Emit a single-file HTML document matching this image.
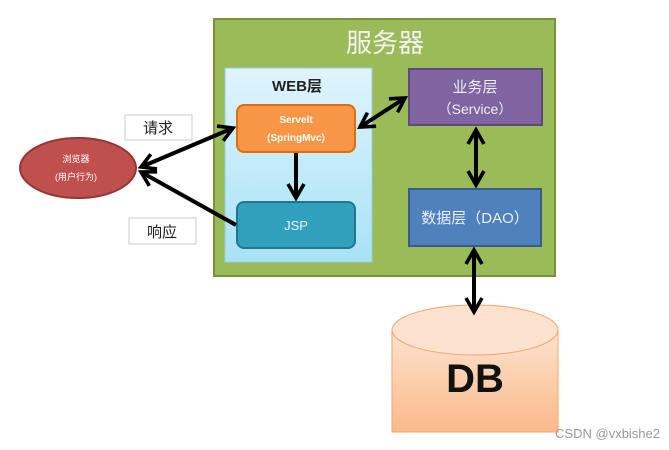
<!DOCTYPE html>
<html><head><meta charset="utf-8"><style>
body{margin:0;background:#fff;width:669px;height:445px;overflow:hidden}
svg text{font-family:"Liberation Sans","Noto Sans CJK SC",sans-serif}
</style></head><body>
<svg width="669" height="445" viewBox="0 0 669 445" xmlns="http://www.w3.org/2000/svg">
<defs>
<marker id="a" viewBox="0 0 10 10" refX="8" refY="5" markerWidth="5" markerHeight="5" orient="auto-start-reverse" markerUnits="strokeWidth">
<path d="M1,1 L8,5 L1,9" fill="none" stroke="#000" stroke-width="1.8"/>
</marker>
<linearGradient id="wb" x1="0" y1="0" x2="0" y2="1"><stop offset="0" stop-color="#dff4fc"/><stop offset="1" stop-color="#a8e2f6"/></linearGradient>
<linearGradient id="db" x1="0" y1="0" x2="0" y2="1"><stop offset="0" stop-color="#fde3cf"/><stop offset="1" stop-color="#fbb98a"/></linearGradient>
</defs>
<rect x="214" y="19" width="341" height="257" fill="#9bbb59" stroke="#77933c" stroke-width="2"/>
<text x="385" y="52" font-size="26" fill="#f2f2f2" text-anchor="middle">服务器</text>
<rect x="225" y="68" width="147" height="194" fill="url(#wb)" stroke="#93cddd" stroke-width="1"/>
<text x="297" y="91" font-size="15" font-weight="bold" fill="#222" text-anchor="middle">WEB层</text>
<rect x="237" y="105" width="118" height="47" rx="7" fill="#f79646" stroke="#e46c0a" stroke-width="2"/>
<text x="296" y="123" font-size="10" font-weight="bold" fill="#fff" text-anchor="middle">Servelt</text>
<text x="296" y="141" font-size="10" font-weight="bold" fill="#fff" text-anchor="middle">(SpringMvc)</text>
<rect x="237" y="202" width="118" height="46" rx="7" fill="#31a0bc" stroke="#21788e" stroke-width="2"/>
<text x="296" y="230" font-size="13" fill="#e8f6fa" text-anchor="middle">JSP</text>
<rect x="409" y="69" width="133" height="56" fill="#8064a2" stroke="#5f497a" stroke-width="2"/>
<text x="475" y="92" font-size="15" fill="#eee" text-anchor="middle">业务层</text>
<text x="475" y="114" font-size="14" fill="#eee" text-anchor="middle">（Service）</text>
<rect x="409" y="189" width="132" height="57" fill="#4f81bd" stroke="#385d8a" stroke-width="2"/>
<text x="475" y="223" font-size="15" fill="#eef" text-anchor="middle">数据层（DAO）</text>
<ellipse cx="78" cy="168" rx="58" ry="30" fill="#c0504d" stroke="#943634" stroke-width="2"/>
<text x="76" y="162" font-size="9" fill="#fff" text-anchor="middle">浏览器</text>
<text x="76" y="180" font-size="9" fill="#fff" text-anchor="middle">(用户行为)</text>
<rect x="125" y="115" width="67" height="25" fill="#fff" stroke="#ccc"/>
<text x="158" y="133" font-size="15" fill="#222" text-anchor="middle">请求</text>
<rect x="129" y="218" width="67" height="26" fill="#fff" stroke="#ccc"/>
<text x="162" y="237" font-size="15" fill="#222" text-anchor="middle">响应</text>
<path d="M392,330 L392,432 L558,432 L558,330" fill="url(#db)" stroke="#f7a46a" stroke-width="1"/>
<ellipse cx="475" cy="330" rx="83" ry="25" fill="#fde3cf" stroke="#f7a46a" stroke-width="1"/>
<text x="475" y="392" font-size="40" font-weight="bold" fill="#111" text-anchor="middle">DB</text>
<g stroke="#000" stroke-width="4" fill="none">
<line x1="141" y1="167" x2="233" y2="128" marker-start="url(#a)" marker-end="url(#a)"/>
<line x1="236" y1="225" x2="141" y2="172" marker-end="url(#a)"/>
<line x1="360" y1="127" x2="405" y2="98" marker-start="url(#a)" marker-end="url(#a)"/>
<line x1="296" y1="153" x2="296" y2="198" marker-end="url(#a)"/>
<line x1="476" y1="130" x2="476" y2="185" marker-start="url(#a)" marker-end="url(#a)"/>
<line x1="474" y1="250" x2="474" y2="312" marker-start="url(#a)" marker-end="url(#a)"/>
</g>
<text x="660" y="438" font-size="13" fill="#999" text-anchor="end">CSDN @vxbishe2</text>
</svg>
</body></html>
